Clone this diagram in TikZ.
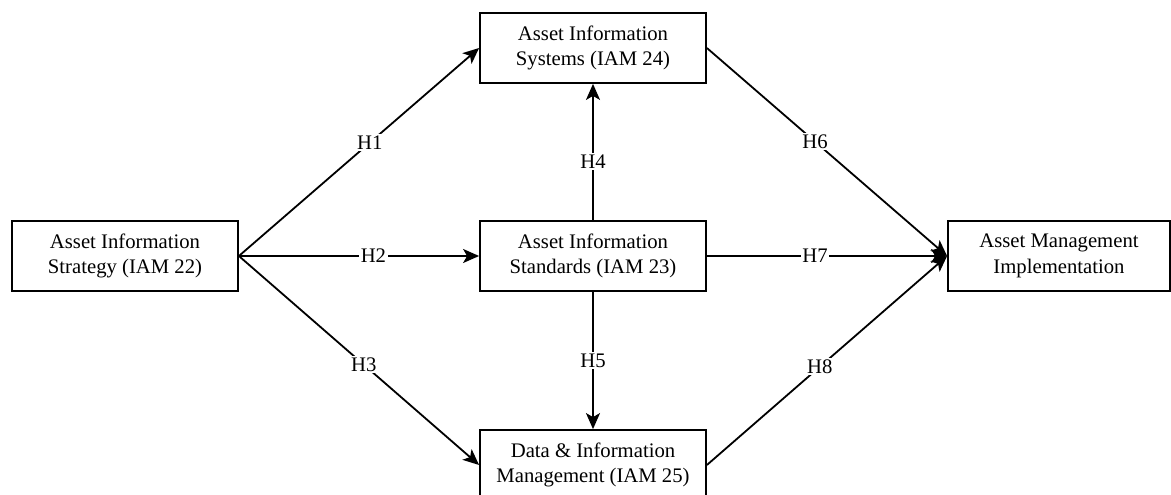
\documentclass[tikz,border=0pt]{standalone}
\usepackage{fontspec}
\setmainfont{Liberation Serif}
\usetikzlibrary{arrows.meta}
\tikzset{
  factor/.style={draw=black, line width=1.8pt, minimum width=226pt, minimum height=70pt,
    align=center, inner sep=2pt, font=\fontsize{20.7}{25.5}\selectfont},
  link/.style={line width=1.8pt, -{Stealth[length=16pt,width=14pt,inset=4pt]}},
  hyp/.style={fill=white, inner sep=1.5pt, font=\fontsize{20.7}{25}\selectfont}
}
\begin{document}
\begin{tikzpicture}[x=1pt, y=-1pt]
\useasboundingbox (0,0) rectangle (1171,495);
% constructs
\node[factor] (strat) at (125,256) {Asset Information\\Strategy (IAM 22)};
\node[factor] (sys)   at (593,48)  {Asset Information\\Systems (IAM 24)};
\node[factor] (std)   at (593,256) {Asset Information\\Standards (IAM 23)};
\node[factor] (dim)   at (593,465) {Data \& Information\\Management (IAM 25)};
\node[factor, minimum width=222pt] (ami) at (1059,256) {Asset Management\\Implementation};
% hypothesised paths
\draw[link] (strat.east) -- node[hyp, pos=0.545] {H1} (sys.west);
\draw[link] (strat.east) -- node[hyp, pos=0.56]  {H2} (std.west);
\draw[link] (strat.east) -- node[hyp, pos=0.52]  {H3} (dim.west);
\draw[link] (std.north)  -- node[hyp, pos=0.43]  {H4} (sys.south);
\draw[link] (std.south)  -- node[hyp, pos=0.5]   {H5} (dim.north);
\draw[link] (sys.east)   -- node[hyp, pos=0.45]  {H6} (ami.west);
\draw[link] (std.east)   -- node[hyp, pos=0.45]  {H7} (ami.west);
\draw[link] (dim.east)   -- node[hyp, pos=0.47]  {H8} (ami.west);
\end{tikzpicture}
\end{document}
